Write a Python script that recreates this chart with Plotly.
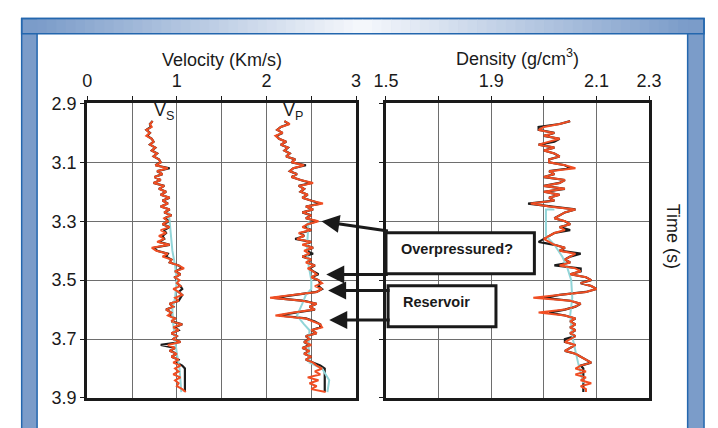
import plotly.graph_objects as go

W, H = 718, 428

# ---- log samples (two-way time in s) ----
TIME = [2.96, 2.97, 2.98, 2.99, 3.00, 3.01, 3.02, 3.03, 3.04, 3.05,
        3.06, 3.07, 3.08, 3.09, 3.10, 3.11, 3.12, 3.13, 3.14, 3.15,
        3.16, 3.17, 3.18, 3.19, 3.20, 3.21, 3.22, 3.23, 3.24, 3.25,
        3.26, 3.27, 3.28, 3.29, 3.30, 3.31, 3.32, 3.33, 3.34, 3.35,
        3.36, 3.37, 3.38, 3.39, 3.40, 3.41, 3.42, 3.43, 3.44, 3.45,
        3.46, 3.47, 3.48, 3.49, 3.50, 3.51, 3.52, 3.53, 3.54, 3.55,
        3.56, 3.57, 3.58, 3.59, 3.60, 3.61, 3.62, 3.63, 3.64, 3.65,
        3.66, 3.67, 3.68, 3.69, 3.70, 3.71, 3.72, 3.73, 3.74, 3.75,
        3.76, 3.77, 3.78, 3.79, 3.80, 3.81, 3.82, 3.83, 3.84, 3.85,
        3.86, 3.87, 3.88]

# Shear velocity (km/s)
VS_RED = [0.73, 0.70, 0.72, 0.66, 0.70, 0.66, 0.72, 0.74, 0.70, 0.76,
          0.72, 0.78, 0.74, 0.80, 0.82, 0.76, 0.90, 0.78, 0.84, 0.75,
          0.82, 0.74, 0.86, 0.80, 0.88, 0.82, 0.92, 0.84, 0.90, 0.82,
          0.92, 0.86, 0.94, 0.86, 0.90, 0.84, 0.92, 0.82, 0.88, 0.80,
          0.86, 0.78, 0.92, 0.72, 0.77, 0.90, 0.84, 0.94, 0.92, 1.02,
          1.08, 0.98, 1.04, 0.98, 1.03, 1.00, 1.04, 0.96, 1.02, 1.06,
          0.98, 1.02, 0.92, 0.96, 0.88, 0.94, 0.90, 0.98, 0.94, 1.06,
          0.96, 1.02, 0.94, 1.00, 0.96, 1.04, 0.90, 0.98, 0.92, 1.00,
          0.94, 1.02, 0.96, 1.04, 0.98, 1.02, 0.96, 1.04, 0.98, 1.02,
          1.00, 1.06, 1.10]
VS_BLACK = [0.73, 0.70, 0.71, 0.66, 0.70, 0.67, 0.72, 0.74, 0.70, 0.76,
            0.72, 0.78, 0.74, 0.80, 0.82, 0.76, 0.92, 0.78, 0.84, 0.75,
            0.82, 0.74, 0.86, 0.80, 0.88, 0.82, 0.92, 0.84, 0.90, 0.82,
            0.92, 0.86, 0.94, 0.86, 0.92, 0.84, 0.92, 0.86, 0.88, 0.84,
            0.86, 0.80, 0.92, 0.74, 0.78, 0.90, 0.88, 0.94, 0.92, 1.02,
            1.06, 0.98, 1.04, 0.98, 1.00, 1.00, 1.04, 1.06, 1.02, 1.06,
            1.04, 1.02, 0.92, 0.96, 0.88, 0.94, 0.92, 0.98, 0.94, 1.06,
            0.98, 1.02, 0.94, 1.00, 0.96, 1.04, 0.82, 0.98, 0.92, 1.00,
            0.94, 1.02, 1.00, 1.06, 1.09, 1.09, 1.09, 1.09, 1.09, 1.09,
            1.09, 1.09, 1.09]
VS_CYAN_T = [3.27, 3.34, 3.40, 3.45, 3.50, 3.56, 3.60, 3.65, 3.70, 3.75, 3.80, 3.88]
VS_CYAN = [0.91, 0.93, 0.95, 0.98, 1.00, 0.98, 0.95, 0.96, 0.98, 1.00, 1.03, 1.05]

# Compressional velocity (km/s)
VP_RED = [2.20, 2.26, 2.16, 2.12, 2.18, 2.10, 2.14, 2.22, 2.16, 2.24,
          2.20, 2.26, 2.22, 2.32, 2.28, 2.42, 2.30, 2.26, 2.34, 2.28,
          2.38, 2.52, 2.36, 2.42, 2.38, 2.46, 2.40, 2.50, 2.63, 2.44,
          2.52, 2.40, 2.50, 2.44, 2.58, 2.46, 2.40, 2.50, 2.36, 2.42,
          2.34, 2.50, 2.40, 2.52, 2.42, 2.48, 2.40, 2.50, 2.44, 2.54,
          2.46, 2.52, 2.56, 2.50, 2.58, 2.62, 2.54, 2.62, 2.56, 2.30,
          2.04, 2.40, 2.56, 2.48, 2.54, 2.30, 2.10, 2.44, 2.52, 2.60,
          2.62, 2.50, 2.56, 2.44, 2.48, 2.42, 2.50, 2.40, 2.48, 2.42,
          2.50, 2.44, 2.52, 2.56, 2.62, 2.54, 2.60, 2.46, 2.58, 2.48,
          2.56, 2.50, 2.66]
VP_BLACK = [2.20, 2.25, 2.16, 2.12, 2.18, 2.11, 2.14, 2.22, 2.16, 2.24,
            2.20, 2.26, 2.22, 2.32, 2.28, 2.44, 2.30, 2.26, 2.34, 2.28,
            2.38, 2.50, 2.36, 2.42, 2.38, 2.46, 2.40, 2.50, 2.60, 2.44,
            2.52, 2.40, 2.50, 2.44, 2.56, 2.46, 2.42, 2.50, 2.38, 2.42,
            2.32, 2.50, 2.42, 2.52, 2.44, 2.52, 2.40, 2.50, 2.46, 2.54,
            2.48, 2.52, 2.58, 2.50, 2.58, 2.60, 2.58, 2.62, 2.56, 2.32,
            2.08, 2.42, 2.56, 2.48, 2.54, 2.32, 2.14, 2.44, 2.54, 2.60,
            2.60, 2.50, 2.56, 2.44, 2.48, 2.42, 2.48, 2.40, 2.48, 2.42,
            2.50, 2.44, 2.52, 2.60, 2.65, 2.65, 2.65, 2.65, 2.65, 2.65,
            2.65, 2.65, 2.65]
VP_CYAN_T = [3.30, 3.35, 3.40, 3.45, 3.50, 3.53, 3.55, 3.58, 3.62, 3.65,
             3.67, 3.72, 3.78, 3.80, 3.84, 3.88]
VP_CYAN = [2.47, 2.46, 2.45, 2.47, 2.50, 2.50, 2.44, 2.40, 2.34, 2.42,
           2.48, 2.47, 2.48, 2.62, 2.70, 2.68]

# Bulk density (g/cm3)
DEN_RED = [2.05, 2.03, 2.00, 1.99, 2.02, 2.00, 2.03, 2.01, 1.99, 2.02,
           2.00, 2.02, 2.03, 2.01, 2.01, 2.04, 2.06, 2.01, 2.02, 2.00,
           2.04, 2.03, 2.00, 2.04, 2.00, 2.03, 2.01, 2.02, 1.975, 2.01,
           2.06, 2.04, 2.03, 2.02, 2.04, 2.05, 2.03, 2.04, 2.02, 2.01,
           2.00, 2.01, 2.02, 2.04, 2.03, 2.06, 2.05, 2.04, 2.05, 2.03,
           2.06, 2.07, 2.05, 2.08, 2.09, 2.07, 2.09, 2.10, 2.08, 2.03,
           1.98, 2.05, 2.07, 2.06, 2.04, 1.99, 2.04, 2.06, 2.05, 2.06,
           2.05, 2.06, 2.05, 2.06, 2.05, 2.04, 2.06, 2.05, 2.04, 2.06,
           2.07, 2.08, 2.09, 2.07, 2.06, 2.08, 2.06, 2.08, 2.07, 2.09,
           2.07, 2.08, 2.08]
DEN_BLACK = [2.05, 2.03, 1.99, 1.99, 2.02, 2.00, 2.03, 2.02, 1.99, 2.02,
             2.00, 2.02, 2.03, 2.01, 2.01, 2.04, 2.05, 2.01, 2.02, 2.00,
             2.04, 2.03, 2.00, 2.04, 2.00, 2.03, 2.01, 2.02, 1.97, 2.01,
             2.06, 2.04, 2.03, 2.02, 2.04, 2.05, 2.03, 2.05, 2.02, 2.01,
             2.00, 1.99, 2.02, 2.04, 2.03, 2.07, 2.05, 2.04, 2.05, 2.02,
             2.07, 2.07, 2.05, 2.08, 2.09, 2.07, 2.09, 2.10, 2.08, 2.03,
             2.00, 2.05, 2.07, 2.06, 2.04, 2.01, 2.04, 2.06, 2.05, 2.06,
             2.05, 2.06, 2.05, 2.06, 2.04, 2.04, 2.06, 2.05, 2.04, 2.06,
             2.07, 2.08, 2.09, 2.07, 2.075, 2.075, 2.075, 2.075, 2.075, 2.075,
             2.075, 2.075, 2.075]
DEN_CYAN_T = [3.26, 3.26, 3.35, 3.38, 3.42, 3.46, 3.50, 3.56, 3.62, 3.70, 3.78, 3.85]
DEN_CYAN = [2.02, 2.004, 2.004, 2.02, 2.035, 2.045, 2.052, 2.054, 2.05, 2.055, 2.065, 2.075]

# ---- axis ticks ----
TIME_TICKS = [2.9, 3.1, 3.3, 3.5, 3.7, 3.9]
TIME_LABELS = ["2.9", "3.1", "3.3", "3.5", "3.7", "3.9"]
VEL_TICKS = [0, 0.5, 1, 1.5, 2, 2.5, 3]
VEL_LABELS = ["0", "", "1", "", "2", "", "3"]
DEN_TICKS = [1.7, 1.8, 1.9, 2.0, 2.1, 2.2]
DEN_LABELS = ["1.5", "", "1.9", "", "2.1", "2.3"]

RED = "#f04e23"
BLACK = "#1c1c1c"
CYAN = "#92d5d8"
INK = "#1a1a1a"
FRAME_BLUE = "#7b9cc9"
FRAME_EDGE = "#2467ae"
FONT = "Liberation Sans, Arial, sans-serif"


def px(x):
    return x / W


def py(y):
    return 1 - y / H


fig = go.Figure()

logs = [
    ("x", "y", VS_BLACK, VS_RED, VS_CYAN_T, VS_CYAN),
    ("x", "y", VP_BLACK, VP_RED, VP_CYAN_T, VP_CYAN),
    ("x2", "y2", DEN_BLACK, DEN_RED, DEN_CYAN_T, DEN_CYAN),
]
for xa, ya, blk, red, ct, cv in logs:
    fig.add_trace(go.Scatter(x=blk, y=TIME, xaxis=xa, yaxis=ya, mode="lines",
                             line=dict(color=BLACK, width=2.2), hoverinfo="skip"))
    fig.add_trace(go.Scatter(x=cv, y=ct, xaxis=xa, yaxis=ya, mode="lines",
                             line=dict(color=CYAN, width=2), hoverinfo="skip"))
    fig.add_trace(go.Scatter(x=red, y=TIME, xaxis=xa, yaxis=ya, mode="lines",
                             line=dict(color=RED, width=2), hoverinfo="skip"))

ydom = [py(407), py(98)]
common_x = dict(side="top", showgrid=True, gridcolor="#6e6e6e", gridwidth=1,
                ticks="outside", ticklen=4, tickcolor=INK, showline=True,
                linewidth=3, linecolor=INK, mirror=True, zeroline=False,
                tickfont=dict(size=18, color=INK), ticklabelstandoff=2)
common_y = dict(range=[3.9, 2.9], tickvals=TIME_TICKS, showgrid=True,
                gridcolor="#6e6e6e", gridwidth=1, ticks="outside", ticklen=4,
                tickcolor=INK, showline=True, linewidth=3, linecolor=INK,
                mirror=True, zeroline=False, domain=ydom,
                tickfont=dict(size=18, color=INK))

fig.update_layout(
    width=W, height=H, margin=dict(l=0, r=0, t=0, b=0),
    paper_bgcolor="white", plot_bgcolor="white", showlegend=False,
    font=dict(family=FONT, color=INK, size=18),
    xaxis=dict(common_x, domain=[px(77), px(356)], range=[0, 3],
               tickvals=VEL_TICKS, ticktext=VEL_LABELS, anchor="y"),
    yaxis=dict(common_y, ticktext=TIME_LABELS, anchor="x"),
    xaxis2=dict(common_x, domain=[px(387), px(660)], range=[1.7, 2.2],
                tickvals=DEN_TICKS, ticktext=DEN_LABELS, anchor="y2"),
    yaxis2=dict(common_y, ticktext=[""] * len(TIME_TICKS), anchor="x2"),
)

# ---- blue picture frame ----
shapes = [dict(type="rect", xref="paper", yref="paper", x0=px(9), x1=px(717),
               y0=-0.2, y1=py(9), fillcolor=FRAME_BLUE,
               line=dict(color=FRAME_EDGE, width=1.5), layer="below")]
n_strips = 68
light = (246, 248, 252)
blue = (123, 156, 201)
for i in range(n_strips):
    a = 25 + (700 - 25) * i / n_strips
    b = 25 + (700 - 25) * (i + 1) / n_strips
    mid = (a + b) / 2
    f = min(1.0, abs(mid - 362) / 337)
    c = tuple(round(light[k] + (blue[k] - light[k]) * f) for k in range(3))
    shapes.append(dict(type="rect", xref="paper", yref="paper", x0=px(a), x1=px(b) + 0.001,
                       y0=py(24.5), y1=py(9.8), fillcolor="rgb(%d,%d,%d)" % c,
                       line=dict(width=0), layer="below"))
shapes.append(dict(type="rect", xref="paper", yref="paper", x0=px(9), x1=px(717),
                   y0=py(25), y1=py(9), fillcolor="rgba(0,0,0,0)",
                   line=dict(color=FRAME_EDGE, width=1.5), layer="below"))
shapes.append(dict(type="rect", xref="paper", yref="paper", x0=px(25), x1=px(700),
                   y0=-0.2, y1=py(25), fillcolor="white",
                   line=dict(color=FRAME_EDGE, width=1.5), layer="below"))

# ---- callout boxes ----
shapes.append(dict(type="rect", xref="x2", yref="y2", x0=1.70, x1=1.982,
                   y0=3.339, y1=3.478, fillcolor="white",
                   line=dict(color=INK, width=3), layer="above"))
shapes.append(dict(type="rect", xref="x2", yref="y2", x0=1.704, x1=1.909,
                   y0=3.519, y1=3.658, fillcolor="white",
                   line=dict(color=INK, width=3), layer="above"))
fig.update_layout(shapes=shapes)

ann = []
mid = dict(xanchor="center", yanchor="middle", showarrow=False)
ann.append(dict(mid, text="Velocity (Km/s)", xref="x domain", yref="paper", x=0.5, y=py(52),
                font=dict(size=18)))
ann.append(dict(mid, text="Density (g/cm<sup>3</sup>)", xref="x2 domain", yref="paper", x=0.5,
                y=py(50), font=dict(size=18)))
ann.append(dict(mid, text="V<sub>S</sub>", xref="x", yref="y", x=0.86, y=2.927,
                font=dict(size=18)))
ann.append(dict(mid, text="V<sub>P</sub>", xref="x", yref="y", x=2.30, y=2.927,
                font=dict(size=18)))
ann.append(dict(mid, text="Time (s)", xref="paper", yref="paper", x=px(685), y=py(237),
                textangle=90, font=dict(size=18)))
ann.append(dict(text="<b>Overpressured?</b>", xref="x2", yref="y2", x=1.7256, y=3.394,
                xanchor="left", yanchor="middle", showarrow=False,
                font=dict(size=14.5, family=FONT)))
ann.append(dict(text="<b>Reservoir</b>", xref="x2", yref="y2", x=1.729, y=3.574,
                xanchor="left", yanchor="middle", showarrow=False,
                font=dict(size=14.5, family=FONT)))

# arrows: head on the Vp log, tail on the callout box
arrows = [(2.613, 3.300, 68, 10), (2.667, 3.481, 63, 0),
          (2.688, 3.535, 63, 0), (2.700, 3.635, 62, 0)]
for hx, hy, ax, ay in arrows:
    ann.append(dict(text="", xref="x", yref="y", x=hx, y=hy, ax=ax, ay=ay,
                    showarrow=True, arrowhead=2, arrowsize=1.2, arrowwidth=3,
                    arrowcolor=INK))
fig.update_layout(annotations=ann)

fig.write_html("out.html")
